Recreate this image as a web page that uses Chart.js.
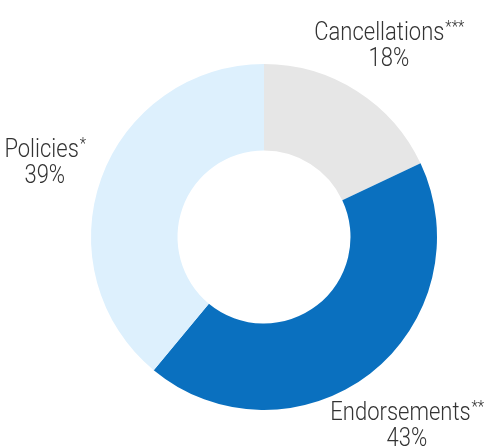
<!DOCTYPE html>
<html>
<head>
<meta charset="utf-8">
<script src="https://cdn.jsdelivr.net/npm/chart.js@4"></script>
<style>
  html, body { margin: 0; padding: 0; background: #fff; }
  #wrap { width: 488px; height: 448px; }
</style>
</head>
<body>
<div id="wrap"><canvas id="chart"></canvas></div>
<script>
const labels = ['Cancellations', 'Endorsements', 'Policies'];
const marks = ['***', '**', '*'];
const shares = [18, 43, 39];
const colors = ['#e6e6e6', '#0a70bf', '#ddf0fd'];

// labels sit outside the ring, on each slice's mid-angle
const outsideLabels = {
  id: 'outsideLabels',
  afterDatasetsDraw(chart) {
    const ctx = chart.ctx;
    const meta = chart.getDatasetMeta(0);
    const sx = 0.88; // narrow the font a bit, the original face is condensed
    meta.data.forEach((arc, i) => {
      const mid = (arc.startAngle + arc.endAngle) / 2;
      const r = arc.outerRadius + 60;
      const x = arc.x + Math.cos(mid) * r;
      const y = arc.y + Math.sin(mid) * r + 6;
      ctx.save();
      ctx.translate(x, y);
      ctx.scale(sx, 1);
      ctx.fillStyle = '#333';
      ctx.textBaseline = 'middle';
      ctx.font = '300 25px Roboto';
      const w1 = ctx.measureText(labels[i]).width;
      ctx.font = '300 17px Roboto';
      const w2 = ctx.measureText(marks[i]).width;
      const left = -(w1 + w2) / 2;
      ctx.textAlign = 'left';
      ctx.font = '300 25px Roboto';
      ctx.fillText(labels[i], left, -13);
      ctx.font = '300 17px Roboto';
      ctx.fillText(marks[i], left + w1 + 1, -19);
      ctx.font = '300 25px Roboto';
      ctx.textAlign = 'center';
      ctx.fillText(shares[i] + '%', 0, 13);
      ctx.restore();
    });
  }
};

new Chart(document.getElementById('chart'), {
  type: 'doughnut',
  data: {
    labels: labels,
    datasets: [{
      data: shares,
      backgroundColor: colors,
      borderWidth: 0
    }]
  },
  options: {
    responsive: true,
    maintainAspectRatio: false,
    animation: false,
    cutout: '50%',
    layout: { padding: { top: 64, bottom: 38, left: 91, right: 51 } },
    plugins: {
      legend: { display: false },
      tooltip: { enabled: false }
    }
  },
  plugins: [outsideLabels]
});
</script>
</body>
</html>
